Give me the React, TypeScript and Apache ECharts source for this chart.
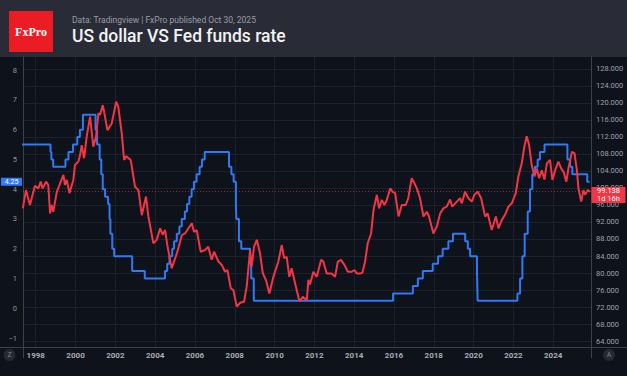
import React, { useEffect, useRef } from "react";
import * as echarts from "echarts";

// Fed funds target rate (upper bound): change dates and new levels
const fedDates = [
  "1997-03-25", "1998-09-29", "1998-10-15", "1998-11-17", "1999-06-30", "1999-08-24", "1999-11-16",
  "2000-02-02", "2000-03-21", "2000-05-16", "2001-01-03", "2001-01-31", "2001-03-20", "2001-04-18",
  "2001-05-15", "2001-06-27", "2001-08-21", "2001-09-17", "2001-10-02", "2001-11-06", "2001-12-11",
  "2002-11-06", "2003-06-25", "2004-06-30", "2004-08-10", "2004-09-21", "2004-11-10", "2004-12-14",
  "2005-02-02", "2005-03-22", "2005-05-03", "2005-06-30", "2005-08-09", "2005-09-20", "2005-11-01",
  "2005-12-13", "2006-01-31", "2006-03-28", "2006-05-10", "2006-06-29", "2007-09-18", "2007-10-31",
  "2007-12-11", "2008-01-22", "2008-01-30", "2008-03-18", "2008-04-30", "2008-10-08", "2008-10-29",
  "2008-12-16", "2015-12-16", "2016-12-14", "2017-03-15", "2017-06-14", "2017-12-13", "2018-03-21",
  "2018-06-13", "2018-09-26", "2018-12-19", "2019-07-31", "2019-09-18", "2019-10-30", "2020-03-03",
  "2020-03-15", "2022-03-16", "2022-05-04", "2022-06-15", "2022-07-27", "2022-09-21", "2022-11-02",
  "2022-12-14", "2023-02-01", "2023-03-22", "2023-05-03", "2023-07-26", "2024-09-18", "2024-11-07",
  "2024-12-18", "2025-09-17", "2025-10-30",
];
const fedRates = [
  5.5, 5.25, 5.0, 4.75, 5.0, 5.25, 5.5,
  5.75, 6.0, 6.5, 6.0, 5.5, 5.0, 4.5,
  4.0, 3.75, 3.5, 3.0, 2.5, 2.0, 1.75,
  1.25, 1.0, 1.25, 1.5, 1.75, 2.0, 2.25,
  2.5, 2.75, 3.0, 3.25, 3.5, 3.75, 4.0,
  4.25, 4.5, 4.75, 5.0, 5.25, 4.75, 4.5,
  4.25, 3.5, 3.0, 2.25, 2.0, 1.5, 1.0,
  0.25, 0.5, 0.75, 1.0, 1.25, 1.5, 1.75,
  2.0, 2.25, 2.5, 2.25, 2.0, 1.75, 1.25,
  0.25, 0.5, 1.0, 1.75, 2.5, 3.25, 4.0,
  4.5, 4.75, 5.0, 5.25, 5.5, 5.0, 4.75,
  4.5, 4.25, 4.25,
];

// US dollar index, decimal years
const dxyYears = [
  1997.35, 1997.51, 1997.71, 1997.96, 1998.13, 1998.25, 1998.35, 1998.52, 1998.63, 1998.72,
  1998.8, 1998.88, 1999.06, 1999.39, 1999.47, 1999.56, 1999.69, 1999.89, 1999.97, 2000.14,
  2000.23, 2000.31, 2000.43, 2000.56, 2000.73, 2000.89, 2001.03, 2001.15, 2001.23, 2001.37,
  2001.48, 2001.6, 2001.82, 2002.04, 2002.15, 2002.32, 2002.44, 2002.54, 2002.77, 2002.99,
  2003.16, 2003.33, 2003.54, 2003.66, 2003.91, 2004.08, 2004.25, 2004.38, 2004.5, 2004.61,
  2004.83, 2005.09, 2005.34, 2005.5, 2005.67, 2005.84, 2005.95, 2006.09, 2006.29, 2006.51,
  2006.67, 2006.84, 2006.96, 2007.18, 2007.35, 2007.51, 2007.63, 2007.8, 2007.93, 2008.1,
  2008.27, 2008.47, 2008.6, 2008.77, 2008.85, 2008.97, 2009.11, 2009.27, 2009.41, 2009.57,
  2009.74, 2009.94, 2010.19, 2010.36, 2010.48, 2010.61, 2010.74, 2010.86, 2011.03, 2011.25,
  2011.42, 2011.62, 2011.7, 2011.78, 2011.95, 2012.12, 2012.34, 2012.45, 2012.62, 2012.87,
  2013.04, 2013.18, 2013.34, 2013.51, 2013.68, 2013.88, 2014.01, 2014.13, 2014.3, 2014.41,
  2014.55, 2014.68, 2014.85, 2014.97, 2015.14, 2015.25, 2015.39, 2015.52, 2015.64, 2015.81,
  2015.93, 2016.06, 2016.23, 2016.39, 2016.59, 2016.72, 2016.89, 2017.03, 2017.15, 2017.31,
  2017.48, 2017.65, 2017.76, 2017.98, 2018.15, 2018.32, 2018.48, 2018.65, 2018.82, 2018.93,
  2019.16, 2019.32, 2019.41, 2019.57, 2019.74, 2019.91, 2020.04, 2020.21, 2020.38, 2020.58,
  2020.71, 2020.91, 2021.12, 2021.25, 2021.42, 2021.58, 2021.75, 2021.92, 2022.12, 2022.25,
  2022.42, 2022.55, 2022.67, 2022.79, 2022.92, 2023.06, 2023.18, 2023.29, 2023.43, 2023.56,
  2023.68, 2023.84, 2023.96, 2024.1, 2024.26, 2024.4, 2024.52, 2024.66, 2024.78, 2024.94,
  2025.07, 2025.19, 2025.27, 2025.41, 2025.52, 2025.6, 2025.74, 2025.85,
];
const dxyValues = [
  95.2, 99.5, 96.0, 100.5, 99.9, 101.5, 99.9, 101.5, 100.7, 94.0,
  96.0, 94.4, 99.1, 103.1, 100.7, 101.9, 98.8, 101.9, 105.4, 106.2,
  107.8, 110.1, 107.0, 112.1, 116.8, 109.7, 112.1, 117.6, 117.2, 119.5,
  116.8, 113.6, 115.2, 120.3, 119.0, 112.9, 106.6, 107.5, 106.6, 100.3,
  99.5, 93.6, 98.0, 93.3, 87.0, 87.8, 90.5, 89.0, 90.1, 86.6,
  81.1, 84.6, 88.9, 89.3, 90.5, 91.7, 89.7, 90.1, 85.0, 85.4,
  86.2, 83.1, 85.0, 82.7, 81.9, 80.3, 80.7, 76.4, 76.0, 72.1,
  73.0, 73.3, 76.8, 85.4, 81.5, 86.2, 87.8, 84.6, 79.9, 78.3,
  75.2, 79.1, 82.7, 86.6, 83.5, 83.8, 79.1, 81.1, 77.6, 73.3,
  74.4, 73.6, 78.4, 77.3, 80.3, 79.1, 83.1, 82.7, 79.9, 79.9,
  79.1, 82.7, 83.1, 81.9, 80.3, 80.3, 80.7, 79.9, 79.9, 80.0,
  82.7, 87.0, 89.3, 94.8, 98.4, 95.2, 97.2, 96.0, 97.2, 99.9,
  99.1, 98.8, 93.3, 96.0, 96.0, 97.6, 102.3, 101.1, 99.9, 97.6,
  93.3, 94.4, 93.3, 89.3, 90.9, 94.0, 95.2, 95.6, 97.3, 95.6,
  96.8, 97.6, 96.4, 99.1, 97.6, 96.8, 98.4, 99.1, 97.6, 93.3,
  94.0, 90.1, 93.3, 90.5, 92.5, 93.7, 95.6, 96.4, 98.8, 102.7,
  105.8, 109.7, 112.2, 110.1, 105.4, 102.7, 104.6, 102.3, 104.2, 102.0,
  105.8, 106.6, 101.9, 104.2, 106.2, 104.6, 103.8, 101.5, 105.0, 108.5,
  108.2, 104.2, 99.9, 96.8, 99.5, 98.4, 99.5, 99.138,
];

const xTickYears = [1998, 2000, 2002, 2004, 2006, 2008, 2010, 2012, 2014, 2016, 2018, 2020, 2022, 2024];
const leftTicks = [-1, 0, 1, 2, 3, 4, 5, 6, 7, 8];
const rightTicks = [64, 68, 72, 76, 80, 84, 88, 92, 96, 100, 104, 108, 112, 116, 120, 124, 128];

const lastDxy = 99.138;
const lastFed = 4.25;
const countdown = "1d 16h";

const X_MIN = 1997.36;
const X_MAX = 2025.9;

const BLUE = "#3179f5";
const RED = "#f23645";
const BG = "#0e121b";
const HEADER = "#292c36";
const AXIS = "#3d414c";
const GRID = "#1c212b";
const FONT = "Roboto, 'Noto Sans', sans-serif";

function toYear(d: string): number {
  const [y, m, day] = d.split("-").map(Number);
  const start = Date.UTC(y, 0, 1);
  const end = Date.UTC(y + 1, 0, 1);
  return y + (Date.UTC(y, m - 1, day) - start) / (end - start);
}

export default function App() {
  const ref = useRef<HTMLDivElement>(null);
  useEffect(() => {
    if (!ref.current) return;
    const chart = echarts.init(ref.current, undefined, { renderer: "svg" });
    const fedData = fedDates.map((d, i) => [toYear(d), fedRates[i]]);
    const dxyData = dxyYears.map((y, i) => [y, dxyValues[i]]);

    chart.setOption({
      animation: false,
      backgroundColor: BG,
      textStyle: { fontFamily: FONT },
      grid: { left: 23, right: 36, top: 57, bottom: 29 },
      xAxis: {
        type: "value",
        min: X_MIN,
        max: X_MAX,
        axisLine: { show: true, onZero: false, lineStyle: { color: AXIS, width: 1 } },
        axisTick: { show: false, customValues: xTickYears },
        splitLine: { show: true, lineStyle: { color: GRID, width: 1 } },
        axisLabel: {
          customValues: xTickYears,
          formatter: (v: number) => String(Math.round(v)),
          color: "#a9adb6",
          fontSize: 8,
          fontWeight: "bold",
          margin: 4,
          fontFamily: FONT,
        },
      },
      yAxis: [
        {
          type: "value",
          position: "left",
          min: -1.3,
          max: 8.44,
          axisLine: { show: true, onZero: false, lineStyle: { color: AXIS, width: 1 } },
          axisTick: { show: false, customValues: leftTicks },
          splitLine: { show: false },
          axisLabel: {
            customValues: leftTicks,
            formatter: (v: number) => (v < 0 ? "\u2212" + Math.abs(v) : String(v)),
            color: "#8e929c",
            fontSize: 7.5,
            margin: 6,
            fontFamily: FONT,
          },
        },
        {
          type: "value",
          position: "right",
          min: 62.59,
          max: 130.82,
          axisLine: { show: true, onZero: false, lineStyle: { color: AXIS, width: 1 } },
          axisTick: { show: false, customValues: rightTicks },
          splitLine: { show: true, lineStyle: { color: GRID, width: 1 } },
          axisLabel: {
            customValues: rightTicks,
            formatter: (v: number) => v.toFixed(3),
            color: "#9da1ab",
            fontSize: 7.5,
            margin: 5,
            fontFamily: FONT,
          },
        },
      ],
      series: [
        {
          type: "line",
          name: "Fed funds rate",
          yAxisIndex: 0,
          step: "end",
          showSymbol: false,
          data: fedData,
          lineStyle: { color: BLUE, width: 2 },
          itemStyle: { color: BLUE },
          z: 2,
          markPoint: {
            silent: true,
            symbol: "rect",
            symbolSize: [21, 8],
            symbolOffset: [-11.5, 0],
            itemStyle: { color: BLUE },
            label: {
              show: true,
              position: "inside",
              formatter: lastFed.toFixed(2),
              color: "#ffffff",
              fontSize: 7,
              fontFamily: FONT,
            },
            data: [{ coord: [X_MIN, lastFed] }],
          },
        },
        {
          type: "line",
          name: "US dollar index",
          yAxisIndex: 1,
          showSymbol: false,
          data: dxyData,
          lineStyle: { color: RED, width: 2 },
          itemStyle: { color: RED },
          z: 3,
          markLine: {
            silent: true,
            symbol: "none",
            label: { show: false },
            lineStyle: { color: "rgba(242,54,69,0.6)", width: 1, type: [1, 2] },
            data: [{ yAxis: lastDxy }],
          },
          markPoint: {
            silent: true,
            symbol: "rect",
            symbolSize: [34, 16],
            symbolOffset: [17.5, 3.3],
            itemStyle: { color: RED },
            label: {
              show: true,
              position: "inside",
              formatter: lastDxy.toFixed(3) + "\n" + countdown,
              color: "#ffffff",
              fontSize: 7.5,
              lineHeight: 8,
              fontFamily: FONT,
            },
            data: [{ coord: [X_MAX, lastDxy] }],
          },
        },
      ],
      graphic: [
        { type: "rect", left: 0, top: 0, shape: { width: 627, height: 57 }, style: { fill: HEADER }, silent: true },
        { type: "rect", shape: { x: 9, y: 11, width: 44, height: 41 }, style: { fill: "#ec1c24" }, silent: true },
        {
          type: "text",
          x: 31,
          y: 31.5,
          style: {
            text: "FxPro",
            fill: "#ffffff",
            font: "bold 12px 'Liberation Serif', serif",
            align: "center",
            verticalAlign: "middle",
          },
          silent: true,
        },
        {
          type: "text",
          x: 72,
          y: 20,
          style: {
            text: "Data: Tradingview | FxPro published Oct 30, 2025",
            fill: "#9a9da6",
            font: "8.5px Roboto, sans-serif",
            verticalAlign: "middle",
          },
          silent: true,
        },
        {
          type: "text",
          x: 72,
          y: 35.5,
          style: {
            text: "US dollar VS Fed funds rate",
            fill: "#f2f3f5",
            font: "500 17.5px Roboto, sans-serif",
            verticalAlign: "middle",
          },
          silent: true,
        },
        { type: "line", shape: { x1: 0, y1: 347.5, x2: 627, y2: 347.5 }, style: { stroke: AXIS, lineWidth: 1 }, silent: true },
        { type: "line", shape: { x1: 23.5, y1: 347, x2: 23.5, y2: 358 }, style: { stroke: AXIS, lineWidth: 1 }, silent: true },
        { type: "line", shape: { x1: 591.5, y1: 347, x2: 591.5, y2: 358 }, style: { stroke: AXIS, lineWidth: 1 }, silent: true },
        { type: "circle", shape: { cx: 9.5, cy: 355, r: 6 }, style: { fill: "#252933" }, silent: true },
        {
          type: "text",
          x: 9.5,
          y: 355,
          style: { text: "Z", fill: "#7d818b", font: "7px Roboto, sans-serif", align: "center", verticalAlign: "middle" },
          silent: true,
        },
        { type: "circle", shape: { cx: 609, cy: 355, r: 6 }, style: { fill: "#252933" }, silent: true },
        {
          type: "text",
          x: 609,
          y: 355,
          style: { text: "A", fill: "#7d818b", font: "7px Roboto, sans-serif", align: "center", verticalAlign: "middle" },
          silent: true,
        },
      ],
    });
    return () => chart.dispose();
  }, []);
  return <div ref={ref} style={{ position: "fixed", left: 0, top: 0, width: 627, height: 376 }} />;
}
